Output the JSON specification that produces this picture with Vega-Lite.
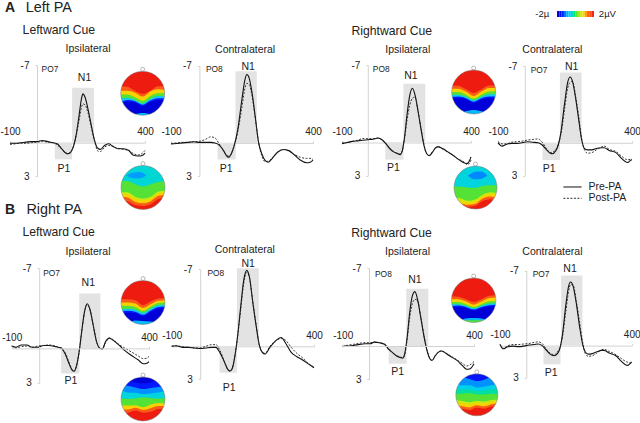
{"$schema":"https://vega.github.io/schema/vega-lite/v6.json","width":640,"height":423,"padding":0,"autosize":{"type":"none"},"background":"white",
"config":{"view":{"stroke":null},"axis":{"grid":false,"domainColor":"#d2d2d2","tickColor":"#d2d2d2","tickSize":2,"labelColor":"#222","labelFont":"Liberation Sans","labelFontSize":10,"labelOverlap":false,"labelBound":false,"labelFlush":false},"text":{"font":"Liberation Sans","color":"#222"}},
"datasets":{
"boxes":[{"p":"A1","t0":130,"t1":211,"v0":-4.95,"v1":0},{"p":"A1","t0":66,"t1":130,"v0":0,"v1":1.5},{"p":"A2","t0":127,"t1":202,"v0":-6.5,"v1":0},{"p":"A2","t0":64,"t1":128,"v0":0,"v1":1.5},{"p":"A3","t0":138,"t1":223,"v0":-5.3,"v1":0},{"p":"A3","t0":68,"t1":138,"v0":0,"v1":1.55},{"p":"A4","t0":131,"t1":212,"v0":-6.4,"v1":0},{"p":"A4","t0":66,"t1":131,"v0":0,"v1":1.58},{"p":"B1","t0":146,"t1":223,"v0":-4.8,"v1":0},{"p":"B1","t0":80,"t1":146,"v0":0,"v1":2.2},{"p":"B2","t0":129,"t1":206,"v0":-7.1,"v1":0},{"p":"B2","t0":68,"t1":129,"v0":0,"v1":2.4},{"p":"B3","t0":142,"t1":226,"v0":-5.15,"v1":0},{"p":"B3","t0":75,"t1":143,"v0":0,"v1":1.6},{"p":"B4","t0":132,"t1":213,"v0":-6.55,"v1":0},{"p":"B4","t0":65,"t1":130,"v0":0,"v1":1.75}],
"erp":[
{"p":"A1","t":-100,"a":0.05,"b":0.15},{"p":"A1","t":-80,"a":0.05,"b":0.1},{"p":"A1","t":-60,"a":0,"b":0.05},{"p":"A1","t":-40,"a":-0.05,"b":0.05},{"p":"A1","t":-20,"a":-0.1,"b":0},{"p":"A1","t":0,"a":-0.1,"b":-0.05},{"p":"A1","t":20,"a":-0.2,"b":-0.1},{"p":"A1","t":40,"a":-0.1,"b":-0.05},{"p":"A1","t":60,"a":0,"b":0},{"p":"A1","t":75,"a":0.1,"b":0.2},{"p":"A1","t":90,"a":0.5,"b":0.55},{"p":"A1","t":105,"a":0.9,"b":0.9},{"p":"A1","t":115,"a":1,"b":1},{"p":"A1","t":125,"a":0.85,"b":0.8},{"p":"A1","t":135,"a":0.35,"b":0.3},{"p":"A1","t":145,"a":-0.7,"b":-0.6},{"p":"A1","t":155,"a":-2.3,"b":-1.9},{"p":"A1","t":165,"a":-4,"b":-3.2},{"p":"A1","t":170,"a":-4.4,"b":-3.5},{"p":"A1","t":178,"a":-4.1,"b":-3.4},{"p":"A1","t":190,"a":-2.9,"b":-2.6},{"p":"A1","t":200,"a":-1.7,"b":-1.5},{"p":"A1","t":212,"a":-0.3,"b":-0.3},{"p":"A1","t":225,"a":0.5,"b":0.75},{"p":"A1","t":235,"a":0.6,"b":0.8},{"p":"A1","t":250,"a":0.25,"b":0.4},{"p":"A1","t":265,"a":0.1,"b":0.25},{"p":"A1","t":280,"a":0.3,"b":0.35},{"p":"A1","t":300,"a":0.55,"b":0.5},{"p":"A1","t":320,"a":0.55,"b":0.6},{"p":"A1","t":340,"a":0.7,"b":0.7},{"p":"A1","t":355,"a":1.1,"b":0.95},{"p":"A1","t":375,"a":1.2,"b":1.1},{"p":"A1","t":390,"a":1.15,"b":0.95},{"p":"A1","t":400,"a":0.95,"b":0.7},
{"p":"A2","t":-100,"a":0.1,"b":0.05},{"p":"A2","t":-80,"a":0.05,"b":0},{"p":"A2","t":-60,"a":0,"b":-0.05},{"p":"A2","t":-40,"a":-0.05,"b":-0.05},{"p":"A2","t":-20,"a":-0.1,"b":-0.1},{"p":"A2","t":0,"a":-0.05,"b":-0.15},{"p":"A2","t":20,"a":-0.05,"b":-0.3},{"p":"A2","t":40,"a":-0.05,"b":-0.55},{"p":"A2","t":55,"a":0,"b":-0.45},{"p":"A2","t":70,"a":0.2,"b":0.1},{"p":"A2","t":85,"a":0.7,"b":0.7},{"p":"A2","t":95,"a":1.15,"b":1.1},{"p":"A2","t":103,"a":1.3,"b":1.2},{"p":"A2","t":112,"a":1,"b":1},{"p":"A2","t":122,"a":0.3,"b":0.3},{"p":"A2","t":135,"a":-1.2,"b":-1},{"p":"A2","t":150,"a":-4,"b":-3.3},{"p":"A2","t":160,"a":-5.7,"b":-4.9},{"p":"A2","t":167,"a":-6.2,"b":-5.4},{"p":"A2","t":175,"a":-5.9,"b":-5.3},{"p":"A2","t":185,"a":-4.6,"b":-4.3},{"p":"A2","t":197,"a":-2.3,"b":-2.2},{"p":"A2","t":208,"a":-0.1,"b":-0.1},{"p":"A2","t":220,"a":1,"b":1.2},{"p":"A2","t":232,"a":1.6,"b":1.7},{"p":"A2","t":243,"a":1.75,"b":1.65},{"p":"A2","t":258,"a":1.35,"b":1.3},{"p":"A2","t":275,"a":0.85,"b":0.85},{"p":"A2","t":296,"a":0.6,"b":0.6},{"p":"A2","t":315,"a":0.7,"b":0.75},{"p":"A2","t":335,"a":1.1,"b":1.05},{"p":"A2","t":355,"a":1.55,"b":1.3},{"p":"A2","t":378,"a":1.8,"b":1.4},{"p":"A2","t":390,"a":1.75,"b":1.4},{"p":"A2","t":400,"a":1.55,"b":1.5},
{"p":"A3","t":-100,"a":0.1,"b":0.05},{"p":"A3","t":-80,"a":0,"b":0},{"p":"A3","t":-60,"a":-0.1,"b":-0.1},{"p":"A3","t":-40,"a":-0.15,"b":-0.2},{"p":"A3","t":-20,"a":-0.2,"b":-0.35},{"p":"A3","t":0,"a":-0.25,"b":-0.35},{"p":"A3","t":20,"a":-0.3,"b":-0.35},{"p":"A3","t":40,"a":-0.4,"b":-0.4},{"p":"A3","t":55,"a":-0.25,"b":-0.25},{"p":"A3","t":70,"a":0.1,"b":0.1},{"p":"A3","t":85,"a":0.55,"b":0.5},{"p":"A3","t":100,"a":0.85,"b":0.8},{"p":"A3","t":115,"a":1,"b":1},{"p":"A3","t":125,"a":1.1,"b":1.05},{"p":"A3","t":133,"a":0.8,"b":0.8},{"p":"A3","t":142,"a":-0.4,"b":-0.3},{"p":"A3","t":152,"a":-2.5,"b":-2},{"p":"A3","t":163,"a":-4.3,"b":-3.4},{"p":"A3","t":173,"a":-4.9,"b":-4},{"p":"A3","t":183,"a":-4.3,"b":-4.1},{"p":"A3","t":195,"a":-2.8,"b":-2.8},{"p":"A3","t":207,"a":-1.1,"b":-1.2},{"p":"A3","t":218,"a":0.3,"b":0.2},{"p":"A3","t":228,"a":1,"b":1},{"p":"A3","t":238,"a":1.2,"b":1.15},{"p":"A3","t":250,"a":0.9,"b":0.85},{"p":"A3","t":262,"a":0.5,"b":0.55},{"p":"A3","t":272,"a":0.4,"b":0.35},{"p":"A3","t":290,"a":0.55,"b":0.6},{"p":"A3","t":310,"a":0.85,"b":0.85},{"p":"A3","t":330,"a":1.15,"b":1.15},{"p":"A3","t":350,"a":1.5,"b":1.5},{"p":"A3","t":370,"a":1.8,"b":1.7},{"p":"A3","t":385,"a":1.9,"b":2},{"p":"A3","t":395,"a":1.6,"b":1.85},{"p":"A3","t":400,"a":1.3,"b":1.6},
{"p":"A4","t":-100,"a":0,"b":-0.1},{"p":"A4","t":-85,"a":0.3,"b":0.1},{"p":"A4","t":-70,"a":0.15,"b":0.1},{"p":"A4","t":-50,"a":0.05,"b":-0.05},{"p":"A4","t":-30,"a":0.05,"b":-0.1},{"p":"A4","t":-10,"a":0,"b":-0.15},{"p":"A4","t":10,"a":-0.1,"b":-0.25},{"p":"A4","t":30,"a":-0.05,"b":-0.3},{"p":"A4","t":50,"a":0,"b":-0.35},{"p":"A4","t":65,"a":0.2,"b":-0.05},{"p":"A4","t":80,"a":0.6,"b":0.5},{"p":"A4","t":95,"a":0.95,"b":0.9},{"p":"A4","t":103,"a":1,"b":0.85},{"p":"A4","t":115,"a":0.75,"b":0.65},{"p":"A4","t":125,"a":0.2,"b":0.1},{"p":"A4","t":135,"a":-1,"b":-0.8},{"p":"A4","t":148,"a":-3.5,"b":-3},{"p":"A4","t":160,"a":-5.5,"b":-5},{"p":"A4","t":169,"a":-6,"b":-5.5},{"p":"A4","t":178,"a":-5.6,"b":-5.6},{"p":"A4","t":190,"a":-4,"b":-4.2},{"p":"A4","t":200,"a":-2.3,"b":-2.6},{"p":"A4","t":212,"a":-0.3,"b":-0.4},{"p":"A4","t":222,"a":0.5,"b":0.6},{"p":"A4","t":234,"a":0.65,"b":0.95},{"p":"A4","t":250,"a":0.65,"b":0.9},{"p":"A4","t":270,"a":0.5,"b":0.6},{"p":"A4","t":285,"a":0.45,"b":0.4},{"p":"A4","t":296,"a":0.45,"b":0.3},{"p":"A4","t":315,"a":0.7,"b":0.6},{"p":"A4","t":340,"a":0.9,"b":0.8},{"p":"A4","t":360,"a":1.4,"b":1.2},{"p":"A4","t":384,"a":1.8,"b":1.55},{"p":"A4","t":395,"a":1.6,"b":1.5},{"p":"A4","t":400,"a":1.55,"b":1.5},
{"p":"B1","t":-100,"a":-0.2,"b":-0.2},{"p":"B1","t":-85,"a":-0.1,"b":-0.05},{"p":"B1","t":-65,"a":-0.3,"b":-0.15},{"p":"B1","t":-45,"a":-0.3,"b":-0.2},{"p":"B1","t":-25,"a":-0.1,"b":-0.1},{"p":"B1","t":-5,"a":-0.1,"b":-0.2},{"p":"B1","t":15,"a":-0.25,"b":-0.25},{"p":"B1","t":35,"a":-0.25,"b":-0.3},{"p":"B1","t":60,"a":-0.15,"b":-0.2},{"p":"B1","t":80,"a":-0.05,"b":0.05},{"p":"B1","t":95,"a":0.5,"b":0.4},{"p":"B1","t":110,"a":1.4,"b":1.3},{"p":"B1","t":120,"a":1.9,"b":1.85},{"p":"B1","t":127,"a":2,"b":2},{"p":"B1","t":135,"a":1.6,"b":1.65},{"p":"B1","t":145,"a":0.4,"b":0.4},{"p":"B1","t":155,"a":-1.5,"b":-1.4},{"p":"B1","t":165,"a":-3.2,"b":-3.1},{"p":"B1","t":175,"a":-3.9,"b":-3.8},{"p":"B1","t":185,"a":-3.4,"b":-3.4},{"p":"B1","t":197,"a":-2,"b":-2},{"p":"B1","t":210,"a":-0.5,"b":-0.5},{"p":"B1","t":222,"a":0,"b":0},{"p":"B1","t":230,"a":0.05,"b":0.05},{"p":"B1","t":242,"a":-0.6,"b":-0.5},{"p":"B1","t":255,"a":-0.9,"b":-0.9},{"p":"B1","t":270,"a":-0.7,"b":-0.75},{"p":"B1","t":290,"a":-0.3,"b":-0.35},{"p":"B1","t":310,"a":0.15,"b":-0.05},{"p":"B1","t":335,"a":0.6,"b":0.3},{"p":"B1","t":360,"a":1,"b":0.65},{"p":"B1","t":380,"a":1.35,"b":0.9},{"p":"B1","t":392,"a":1.3,"b":0.85},{"p":"B1","t":400,"a":1.15,"b":0.7},
{"p":"B2","t":-100,"a":0,"b":0},{"p":"B2","t":-85,"a":-0.05,"b":-0.05},{"p":"B2","t":-60,"a":0.1,"b":0.05},{"p":"B2","t":-40,"a":0.1,"b":0.1},{"p":"B2","t":-20,"a":0.15,"b":0.15},{"p":"B2","t":0,"a":0.2,"b":0.15},{"p":"B2","t":20,"a":0.15,"b":0},{"p":"B2","t":40,"a":0.1,"b":-0.15},{"p":"B2","t":55,"a":0.1,"b":-0.15},{"p":"B2","t":70,"a":0.6,"b":0.4},{"p":"B2","t":85,"a":1.4,"b":1.4},{"p":"B2","t":97,"a":2.1,"b":2.1},{"p":"B2","t":105,"a":2.25,"b":2.25},{"p":"B2","t":113,"a":2,"b":2},{"p":"B2","t":122,"a":0.9,"b":0.9},{"p":"B2","t":132,"a":-1,"b":-1},{"p":"B2","t":142,"a":-3.5,"b":-3.2},{"p":"B2","t":153,"a":-6,"b":-5.7},{"p":"B2","t":164,"a":-6.9,"b":-6.7},{"p":"B2","t":173,"a":-6.3,"b":-6.3},{"p":"B2","t":185,"a":-4,"b":-4},{"p":"B2","t":197,"a":-1.8,"b":-1.9},{"p":"B2","t":208,"a":-0.1,"b":-0.1},{"p":"B2","t":218,"a":0.55,"b":0.5},{"p":"B2","t":228,"a":0.7,"b":0.65},{"p":"B2","t":245,"a":0.1,"b":0},{"p":"B2","t":265,"a":-0.5,"b":-0.5},{"p":"B2","t":285,"a":-0.8,"b":-0.7},{"p":"B2","t":300,"a":-0.3,"b":-0.55},{"p":"B2","t":320,"a":0.55,"b":0.1},{"p":"B2","t":340,"a":0.95,"b":0.65},{"p":"B2","t":360,"a":1.25,"b":1.05},{"p":"B2","t":380,"a":1.6,"b":1.55},{"p":"B2","t":400,"a":1.95,"b":1.9},
{"p":"B3","t":-100,"a":0,"b":0.05},{"p":"B3","t":-85,"a":0,"b":-0.05},{"p":"B3","t":-60,"a":-0.05,"b":-0.15},{"p":"B3","t":-35,"a":-0.15,"b":-0.25},{"p":"B3","t":-15,"a":-0.2,"b":-0.3},{"p":"B3","t":5,"a":-0.2,"b":-0.3},{"p":"B3","t":20,"a":-0.35,"b":-0.35},{"p":"B3","t":40,"a":-0.3,"b":-0.3},{"p":"B3","t":60,"a":-0.15,"b":-0.1},{"p":"B3","t":75,"a":0.3,"b":0.2},{"p":"B3","t":90,"a":0.6,"b":0.6},{"p":"B3","t":105,"a":0.9,"b":0.85},{"p":"B3","t":120,"a":1.05,"b":1},{"p":"B3","t":128,"a":1.1,"b":1.05},{"p":"B3","t":135,"a":0.8,"b":0.9},{"p":"B3","t":145,"a":-0.7,"b":-0.5},{"p":"B3","t":155,"a":-3,"b":-2.5},{"p":"B3","t":165,"a":-4.5,"b":-3.8},{"p":"B3","t":175,"a":-4.9,"b":-4.2},{"p":"B3","t":185,"a":-4.2,"b":-4.1},{"p":"B3","t":197,"a":-2.6,"b":-2.7},{"p":"B3","t":210,"a":-0.8,"b":-0.9},{"p":"B3","t":222,"a":0.5,"b":0.4},{"p":"B3","t":232,"a":1.15,"b":1.1},{"p":"B3","t":240,"a":1.3,"b":1.3},{"p":"B3","t":252,"a":0.9,"b":0.85},{"p":"B3","t":265,"a":0.55,"b":0.5},{"p":"B3","t":277,"a":0.45,"b":0.45},{"p":"B3","t":295,"a":0.7,"b":0.65},{"p":"B3","t":315,"a":1,"b":0.95},{"p":"B3","t":335,"a":1.3,"b":1.25},{"p":"B3","t":355,"a":1.75,"b":1.55},{"p":"B3","t":372,"a":2.1,"b":1.8},{"p":"B3","t":385,"a":2.05,"b":1.7},{"p":"B3","t":400,"a":1.6,"b":1.4},
{"p":"B4","t":-100,"a":-0.1,"b":-0.1},{"p":"B4","t":-88,"a":0.3,"b":0.25},{"p":"B4","t":-70,"a":0.1,"b":0},{"p":"B4","t":-50,"a":0.05,"b":-0.1},{"p":"B4","t":-30,"a":0.1,"b":-0.1},{"p":"B4","t":-10,"a":0.05,"b":-0.15},{"p":"B4","t":10,"a":-0.05,"b":-0.2},{"p":"B4","t":30,"a":-0.1,"b":-0.3},{"p":"B4","t":45,"a":-0.15,"b":-0.35},{"p":"B4","t":60,"a":0,"b":-0.2},{"p":"B4","t":75,"a":0.4,"b":0.3},{"p":"B4","t":90,"a":0.8,"b":0.7},{"p":"B4","t":105,"a":0.95,"b":0.85},{"p":"B4","t":118,"a":0.75,"b":0.6},{"p":"B4","t":127,"a":0.3,"b":0.2},{"p":"B4","t":137,"a":-1,"b":-0.8},{"p":"B4","t":150,"a":-3.8,"b":-3.2},{"p":"B4","t":160,"a":-5.5,"b":-5},{"p":"B4","t":168,"a":-5.95,"b":-5.7},{"p":"B4","t":177,"a":-5.6,"b":-5.7},{"p":"B4","t":190,"a":-3.9,"b":-4.1},{"p":"B4","t":202,"a":-1.8,"b":-2.2},{"p":"B4","t":214,"a":-0.1,"b":-0.3},{"p":"B4","t":224,"a":0.6,"b":0.75},{"p":"B4","t":235,"a":0.8,"b":1},{"p":"B4","t":250,"a":0.75,"b":0.95},{"p":"B4","t":270,"a":0.55,"b":0.65},{"p":"B4","t":285,"a":0.45,"b":0.4},{"p":"B4","t":295,"a":0.45,"b":0.35},{"p":"B4","t":315,"a":0.7,"b":0.55},{"p":"B4","t":340,"a":0.95,"b":0.85},{"p":"B4","t":360,"a":1.45,"b":1.2},{"p":"B4","t":384,"a":1.85,"b":1.55},{"p":"B4","t":393,"a":1.7,"b":1.6},{"p":"B4","t":400,"a":1.55,"b":1.5}],
"labels":[
{"p":"A1","k":"t","t":44,"v":-12.1,"s":"Left PA"},{"p":"A1","k":"h","t":81,"v":-10.15,"s":"Leftward Cue"},{"p":"A1","k":"m","t":189,"v":-8.47,"s":"Ipsilateral"},{"p":"A1","k":"s","t":48,"v":-6.64,"s":"PO7"},{"p":"A1","k":"m","t":176,"v":-5.85,"s":"N1"},{"p":"A1","k":"m","t":100,"v":2.4,"s":"P1"},
{"p":"A2","k":"m","t":161,"v":-8.45,"s":"Contralateral"},{"p":"A2","k":"s","t":52.6,"v":-6.7,"s":"PO8"},{"p":"A2","k":"m","t":172,"v":-6.9,"s":"N1"},{"p":"A2","k":"m","t":94,"v":2.37,"s":"P1"},
{"p":"A3","k":"h","t":93,"v":-10.07,"s":"Rightward Cue"},{"p":"A3","k":"m","t":155,"v":-8.38,"s":"Ipsilateral"},{"p":"A3","k":"s","t":52,"v":-6.64,"s":"PO8"},{"p":"A3","k":"m","t":167,"v":-5.98,"s":"N1"},{"p":"A3","k":"m","t":99,"v":2.3,"s":"P1"},
{"p":"A4","k":"m","t":103,"v":-8.46,"s":"Contralateral"},{"p":"A4","k":"s","t":53,"v":-6.6,"s":"PO7"},{"p":"A4","k":"m","t":175,"v":-6.9,"s":"N1"},{"p":"A4","k":"m","t":91,"v":2.39,"s":"P1"},{"p":"A4","k":"m","t":299,"v":4,"s":"Pre-PA"},{"p":"A4","k":"m","t":308,"v":5.06,"s":"Post-PA"},
{"p":"B1","k":"t","t":55,"v":-12.1,"s":"Right PA"},{"p":"B1","k":"h","t":71,"v":-10.15,"s":"Leftward Cue"},{"p":"B1","k":"m","t":178,"v":-8.45,"s":"Ipsilateral"},{"p":"B1","k":"s","t":45,"v":-6.56,"s":"PO7"},{"p":"B1","k":"m","t":179,"v":-5.69,"s":"N1"},{"p":"B1","k":"m","t":116,"v":2.85,"s":"P1"},
{"p":"B2","k":"m","t":157,"v":-8.8,"s":"Contralateral"},{"p":"B2","k":"s","t":55,"v":-6.64,"s":"PO8"},{"p":"B2","k":"m","t":169,"v":-7.5,"s":"N1"},{"p":"B2","k":"m","t":102,"v":3.76,"s":"P1"},
{"p":"B3","k":"h","t":86,"v":-10.15,"s":"Rightward Cue"},{"p":"B3","k":"m","t":147,"v":-8.44,"s":"Ipsilateral"},{"p":"B3","k":"s","t":55,"v":-6.49,"s":"PO8"},{"p":"B3","k":"m","t":175,"v":-5.92,"s":"N1"},{"p":"B3","k":"m","t":109,"v":2.34,"s":"P1"},
{"p":"B4","k":"m","t":99,"v":-8.72,"s":"Contralateral"},{"p":"B4","k":"s","t":56,"v":-6.69,"s":"PO7"},{"p":"B4","k":"m","t":166,"v":-7.19,"s":"N1"},{"p":"B4","k":"m","t":94,"v":2.56,"s":"P1"}],
"letters":[{"p":"A1","t":-100,"v":-12.1,"s":"A"},{"p":"B1","t":-106,"v":-12.1,"s":"B"}],
"legendlines":[{"s":"Pre-PA","t0":144,"t1":212,"v":4.03},{"s":"Post-PA","t0":144,"t1":212,"v":5.06}],
"heads":[{"m":"A1t","l":2,"x":0,"y":0,"n":1.09},{"m":"A3t","l":2,"x":0,"y":0,"n":1.09},{"m":"B1t","l":2,"x":0,"y":0,"n":1.09},{"m":"B3t","l":2,"x":0,"y":0,"n":1.09},{"m":"A1b","l":-0.45,"x":0,"y":0,"n":1.09},{"m":"A3b","l":-0.5,"x":0,"y":0,"n":1.09},{"m":"B1b","l":-2,"x":0,"y":0,"n":1.09},{"m":"B3b","l":-1.5,"x":0,"y":0,"n":1.09}],
"bar":[{"u0":-2,"u1":-1.75,"l":-1.9},{"u0":-1.75,"u1":-1.5,"l":-1.62},{"u0":-1.5,"u1":-1.25,"l":-1.38},{"u0":-1.25,"u1":-1,"l":-1.12},{"u0":-1,"u1":-0.75,"l":-0.88},{"u0":-0.75,"u1":-0.5,"l":-0.62},{"u0":-0.5,"u1":-0.25,"l":-0.38},{"u0":-0.25,"u1":0,"l":-0.12},{"u0":0,"u1":0.25,"l":0.12},{"u0":0.25,"u1":0.5,"l":0.38},{"u0":0.5,"u1":0.75,"l":0.62},{"u0":0.75,"u1":1,"l":0.88},{"u0":1,"u1":1.25,"l":1.12},{"u0":1.25,"u1":1.5,"l":1.38},{"u0":1.5,"u1":1.75,"l":1.62},{"u0":1.75,"u1":2,"l":1.9}],
"barlabels":[{"u":-3.6,"s":"-2µ"},{"u":3.45,"s":"2µV"}],
"blobs":[{"m":"A1b","l":-0.95,"x":-0.75,"y":0.55,"b":0.55},{"m":"A1b","l":-0.95,"x":-0.45,"y":0.68,"b":0.42},{"m":"A1b","l":-0.95,"x":-0.15,"y":0.7,"b":0.42},{"m":"A1b","l":-0.95,"x":0.15,"y":0.55,"b":0.55},
{"m":"A3b","l":-1.05,"x":-0.35,"y":0.55,"b":0.55},{"m":"A3b","l":-1.05,"x":-0.05,"y":0.72,"b":0.38},{"m":"A3b","l":-1.05,"x":0.25,"y":0.74,"b":0.4},{"m":"A3b","l":-1.05,"x":0.55,"y":0.55,"b":0.55}],
"topo":[
{"m":"A1t","k":1,"l":1.4,"x":-1,"y":0.32},{"m":"A1t","k":1,"l":1.4,"x":-0.7,"y":0.3},{"m":"A1t","k":1,"l":1.4,"x":-0.35,"y":0.12},{"m":"A1t","k":1,"l":1.4,"x":0,"y":-0.02},{"m":"A1t","k":1,"l":1.4,"x":0.35,"y":0.12},{"m":"A1t","k":1,"l":1.4,"x":0.7,"y":0.32},{"m":"A1t","k":1,"l":1.4,"x":1,"y":0.32},
{"m":"A1t","k":2,"l":0.9,"x":-1,"y":0.12},{"m":"A1t","k":2,"l":0.9,"x":-0.7,"y":0.12},{"m":"A1t","k":2,"l":0.9,"x":-0.35,"y":0.03},{"m":"A1t","k":2,"l":0.9,"x":0,"y":-0.15},{"m":"A1t","k":2,"l":0.9,"x":0.35,"y":0.08},{"m":"A1t","k":2,"l":0.9,"x":0.7,"y":0.18},{"m":"A1t","k":2,"l":0.9,"x":1,"y":0.15},
{"m":"A1t","k":3,"l":0.1,"x":-1,"y":-0.05},{"m":"A1t","k":3,"l":0.1,"x":-0.7,"y":-0.05},{"m":"A1t","k":3,"l":0.1,"x":-0.35,"y":-0.18},{"m":"A1t","k":3,"l":0.1,"x":0,"y":-0.34},{"m":"A1t","k":3,"l":0.1,"x":0.35,"y":-0.12},{"m":"A1t","k":3,"l":0.1,"x":0.7,"y":0},{"m":"A1t","k":3,"l":0.1,"x":1,"y":0},
{"m":"A1t","k":4,"l":-0.7,"x":-1,"y":-0.23},{"m":"A1t","k":4,"l":-0.7,"x":-0.7,"y":-0.2},{"m":"A1t","k":4,"l":-0.7,"x":-0.35,"y":-0.3},{"m":"A1t","k":4,"l":-0.7,"x":0,"y":-0.46},{"m":"A1t","k":4,"l":-0.7,"x":0.35,"y":-0.25},{"m":"A1t","k":4,"l":-0.7,"x":0.7,"y":-0.12},{"m":"A1t","k":4,"l":-0.7,"x":1,"y":-0.12},
{"m":"A1t","k":5,"l":-1.4,"x":-1,"y":-0.4},{"m":"A1t","k":5,"l":-1.4,"x":-0.7,"y":-0.3},{"m":"A1t","k":5,"l":-1.4,"x":-0.35,"y":-0.36},{"m":"A1t","k":5,"l":-1.4,"x":0,"y":-0.52},{"m":"A1t","k":5,"l":-1.4,"x":0.35,"y":-0.33},{"m":"A1t","k":5,"l":-1.4,"x":0.7,"y":-0.22},{"m":"A1t","k":5,"l":-1.4,"x":1,"y":-0.22},
{"m":"A1t","k":6,"l":-2,"x":-1,"y":-0.5},{"m":"A1t","k":6,"l":-2,"x":-0.7,"y":-0.38},{"m":"A1t","k":6,"l":-2,"x":-0.35,"y":-0.42},{"m":"A1t","k":6,"l":-2,"x":0,"y":-0.58},{"m":"A1t","k":6,"l":-2,"x":0.35,"y":-0.4},{"m":"A1t","k":6,"l":-2,"x":0.7,"y":-0.3},{"m":"A1t","k":6,"l":-2,"x":1,"y":-0.3},
{"m":"A1t","k":7,"l":-0.8,"x":-1,"y":-1},{"m":"A1t","k":7,"l":-0.8,"x":-0.7,"y":-1},{"m":"A1t","k":7,"l":-0.8,"x":-0.35,"y":-0.95},{"m":"A1t","k":7,"l":-0.8,"x":0,"y":-0.9},{"m":"A1t","k":7,"l":-0.8,"x":0.35,"y":-0.95},{"m":"A1t","k":7,"l":-0.8,"x":0.7,"y":-1},{"m":"A1t","k":7,"l":-0.8,"x":1,"y":-1},
{"m":"B1t","k":1,"l":1.4,"x":-1,"y":0.15},{"m":"B1t","k":1,"l":1.4,"x":-0.7,"y":0.15},{"m":"B1t","k":1,"l":1.4,"x":-0.35,"y":0.1},{"m":"B1t","k":1,"l":1.4,"x":0,"y":-0.12},{"m":"B1t","k":1,"l":1.4,"x":0.35,"y":0.05},{"m":"B1t","k":1,"l":1.4,"x":0.7,"y":0.18},{"m":"B1t","k":1,"l":1.4,"x":1,"y":0.2},
{"m":"B1t","k":2,"l":0.9,"x":-1,"y":0},{"m":"B1t","k":2,"l":0.9,"x":-0.7,"y":0},{"m":"B1t","k":2,"l":0.9,"x":-0.35,"y":-0.05},{"m":"B1t","k":2,"l":0.9,"x":0,"y":-0.25},{"m":"B1t","k":2,"l":0.9,"x":0.35,"y":-0.08},{"m":"B1t","k":2,"l":0.9,"x":0.7,"y":0.08},{"m":"B1t","k":2,"l":0.9,"x":1,"y":0.1},
{"m":"B1t","k":3,"l":0.1,"x":-1,"y":-0.15},{"m":"B1t","k":3,"l":0.1,"x":-0.7,"y":-0.15},{"m":"B1t","k":3,"l":0.1,"x":-0.35,"y":-0.2},{"m":"B1t","k":3,"l":0.1,"x":0,"y":-0.38},{"m":"B1t","k":3,"l":0.1,"x":0.35,"y":-0.18},{"m":"B1t","k":3,"l":0.1,"x":0.7,"y":-0.02},{"m":"B1t","k":3,"l":0.1,"x":1,"y":0},
{"m":"B1t","k":4,"l":-0.7,"x":-1,"y":-0.3},{"m":"B1t","k":4,"l":-0.7,"x":-0.7,"y":-0.28},{"m":"B1t","k":4,"l":-0.7,"x":-0.35,"y":-0.33},{"m":"B1t","k":4,"l":-0.7,"x":0,"y":-0.47},{"m":"B1t","k":4,"l":-0.7,"x":0.35,"y":-0.28},{"m":"B1t","k":4,"l":-0.7,"x":0.7,"y":-0.12},{"m":"B1t","k":4,"l":-0.7,"x":1,"y":-0.1},
{"m":"B1t","k":5,"l":-1.4,"x":-1,"y":-0.42},{"m":"B1t","k":5,"l":-1.4,"x":-0.7,"y":-0.38},{"m":"B1t","k":5,"l":-1.4,"x":-0.35,"y":-0.42},{"m":"B1t","k":5,"l":-1.4,"x":0,"y":-0.56},{"m":"B1t","k":5,"l":-1.4,"x":0.35,"y":-0.36},{"m":"B1t","k":5,"l":-1.4,"x":0.7,"y":-0.2},{"m":"B1t","k":5,"l":-1.4,"x":1,"y":-0.18},
{"m":"B1t","k":6,"l":-2,"x":-1,"y":-0.5},{"m":"B1t","k":6,"l":-2,"x":-0.7,"y":-0.45},{"m":"B1t","k":6,"l":-2,"x":-0.35,"y":-0.48},{"m":"B1t","k":6,"l":-2,"x":0,"y":-0.62},{"m":"B1t","k":6,"l":-2,"x":0.35,"y":-0.42},{"m":"B1t","k":6,"l":-2,"x":0.7,"y":-0.28},{"m":"B1t","k":6,"l":-2,"x":1,"y":-0.26},
{"m":"B1t","k":7,"l":-0.8,"x":-1,"y":-1},{"m":"B1t","k":7,"l":-0.8,"x":-0.7,"y":-0.95},{"m":"B1t","k":7,"l":-0.8,"x":-0.35,"y":-0.82},{"m":"B1t","k":7,"l":-0.8,"x":0,"y":-0.84},{"m":"B1t","k":7,"l":-0.8,"x":0.35,"y":-0.86},{"m":"B1t","k":7,"l":-0.8,"x":0.7,"y":-0.95},{"m":"B1t","k":7,"l":-0.8,"x":1,"y":-1},
{"m":"A3t","k":1,"l":1.4,"x":-1,"y":0.3},{"m":"A3t","k":1,"l":1.4,"x":-0.7,"y":0.28},{"m":"A3t","k":1,"l":1.4,"x":-0.35,"y":0.12},{"m":"A3t","k":1,"l":1.4,"x":0,"y":-0.05},{"m":"A3t","k":1,"l":1.4,"x":0.35,"y":0.12},{"m":"A3t","k":1,"l":1.4,"x":0.7,"y":0.3},{"m":"A3t","k":1,"l":1.4,"x":1,"y":0.3},
{"m":"A3t","k":2,"l":0.9,"x":-1,"y":0.15},{"m":"A3t","k":2,"l":0.9,"x":-0.7,"y":0.15},{"m":"A3t","k":2,"l":0.9,"x":-0.35,"y":0.02},{"m":"A3t","k":2,"l":0.9,"x":0,"y":-0.18},{"m":"A3t","k":2,"l":0.9,"x":0.35,"y":0.02},{"m":"A3t","k":2,"l":0.9,"x":0.7,"y":0.18},{"m":"A3t","k":2,"l":0.9,"x":1,"y":0.18},
{"m":"A3t","k":3,"l":0.1,"x":-1,"y":0},{"m":"A3t","k":3,"l":0.1,"x":-0.7,"y":0},{"m":"A3t","k":3,"l":0.1,"x":-0.35,"y":-0.12},{"m":"A3t","k":3,"l":0.1,"x":0,"y":-0.3},{"m":"A3t","k":3,"l":0.1,"x":0.35,"y":-0.12},{"m":"A3t","k":3,"l":0.1,"x":0.7,"y":0.02},{"m":"A3t","k":3,"l":0.1,"x":1,"y":0.03},
{"m":"A3t","k":4,"l":-0.7,"x":-1,"y":-0.12},{"m":"A3t","k":4,"l":-0.7,"x":-0.7,"y":-0.12},{"m":"A3t","k":4,"l":-0.7,"x":-0.35,"y":-0.22},{"m":"A3t","k":4,"l":-0.7,"x":0,"y":-0.38},{"m":"A3t","k":4,"l":-0.7,"x":0.35,"y":-0.22},{"m":"A3t","k":4,"l":-0.7,"x":0.7,"y":-0.1},{"m":"A3t","k":4,"l":-0.7,"x":1,"y":-0.1},
{"m":"A3t","k":5,"l":-1.4,"x":-1,"y":-0.22},{"m":"A3t","k":5,"l":-1.4,"x":-0.7,"y":-0.2},{"m":"A3t","k":5,"l":-1.4,"x":-0.35,"y":-0.28},{"m":"A3t","k":5,"l":-1.4,"x":0,"y":-0.44},{"m":"A3t","k":5,"l":-1.4,"x":0.35,"y":-0.28},{"m":"A3t","k":5,"l":-1.4,"x":0.7,"y":-0.2},{"m":"A3t","k":5,"l":-1.4,"x":1,"y":-0.2},
{"m":"A3t","k":6,"l":-2,"x":-1,"y":-0.3},{"m":"A3t","k":6,"l":-2,"x":-0.7,"y":-0.27},{"m":"A3t","k":6,"l":-2,"x":-0.35,"y":-0.34},{"m":"A3t","k":6,"l":-2,"x":0,"y":-0.5},{"m":"A3t","k":6,"l":-2,"x":0.35,"y":-0.34},{"m":"A3t","k":6,"l":-2,"x":0.7,"y":-0.28},{"m":"A3t","k":6,"l":-2,"x":1,"y":-0.28},
{"m":"A3t","k":7,"l":-0.8,"x":-1,"y":-1},{"m":"A3t","k":7,"l":-0.8,"x":-0.7,"y":-1},{"m":"A3t","k":7,"l":-0.8,"x":-0.35,"y":-0.88},{"m":"A3t","k":7,"l":-0.8,"x":0,"y":-0.82},{"m":"A3t","k":7,"l":-0.8,"x":0.35,"y":-0.88},{"m":"A3t","k":7,"l":-0.8,"x":0.7,"y":-1},{"m":"A3t","k":7,"l":-0.8,"x":1,"y":-1},
{"m":"B3t","k":1,"l":1.4,"x":-1,"y":0.18},{"m":"B3t","k":1,"l":1.4,"x":-0.7,"y":0.16},{"m":"B3t","k":1,"l":1.4,"x":-0.35,"y":0.05},{"m":"B3t","k":1,"l":1.4,"x":0,"y":-0.07},{"m":"B3t","k":1,"l":1.4,"x":0.35,"y":0.05},{"m":"B3t","k":1,"l":1.4,"x":0.7,"y":0.2},{"m":"B3t","k":1,"l":1.4,"x":1,"y":0.22},
{"m":"B3t","k":2,"l":0.9,"x":-1,"y":0.05},{"m":"B3t","k":2,"l":0.9,"x":-0.7,"y":0.05},{"m":"B3t","k":2,"l":0.9,"x":-0.35,"y":-0.05},{"m":"B3t","k":2,"l":0.9,"x":0,"y":-0.2},{"m":"B3t","k":2,"l":0.9,"x":0.35,"y":-0.05},{"m":"B3t","k":2,"l":0.9,"x":0.7,"y":0.1},{"m":"B3t","k":2,"l":0.9,"x":1,"y":0.12},
{"m":"B3t","k":3,"l":0.1,"x":-1,"y":-0.08},{"m":"B3t","k":3,"l":0.1,"x":-0.7,"y":-0.08},{"m":"B3t","k":3,"l":0.1,"x":-0.35,"y":-0.18},{"m":"B3t","k":3,"l":0.1,"x":0,"y":-0.3},{"m":"B3t","k":3,"l":0.1,"x":0.35,"y":-0.18},{"m":"B3t","k":3,"l":0.1,"x":0.7,"y":-0.05},{"m":"B3t","k":3,"l":0.1,"x":1,"y":-0.03},
{"m":"B3t","k":4,"l":-0.7,"x":-1,"y":-0.18},{"m":"B3t","k":4,"l":-0.7,"x":-0.7,"y":-0.18},{"m":"B3t","k":4,"l":-0.7,"x":-0.35,"y":-0.25},{"m":"B3t","k":4,"l":-0.7,"x":0,"y":-0.36},{"m":"B3t","k":4,"l":-0.7,"x":0.35,"y":-0.25},{"m":"B3t","k":4,"l":-0.7,"x":0.7,"y":-0.15},{"m":"B3t","k":4,"l":-0.7,"x":1,"y":-0.13},
{"m":"B3t","k":5,"l":-1.4,"x":-1,"y":-0.26},{"m":"B3t","k":5,"l":-1.4,"x":-0.7,"y":-0.24},{"m":"B3t","k":5,"l":-1.4,"x":-0.35,"y":-0.3},{"m":"B3t","k":5,"l":-1.4,"x":0,"y":-0.41},{"m":"B3t","k":5,"l":-1.4,"x":0.35,"y":-0.3},{"m":"B3t","k":5,"l":-1.4,"x":0.7,"y":-0.22},{"m":"B3t","k":5,"l":-1.4,"x":1,"y":-0.2},
{"m":"B3t","k":6,"l":-2,"x":-1,"y":-0.34},{"m":"B3t","k":6,"l":-2,"x":-0.7,"y":-0.3},{"m":"B3t","k":6,"l":-2,"x":-0.35,"y":-0.36},{"m":"B3t","k":6,"l":-2,"x":0,"y":-0.46},{"m":"B3t","k":6,"l":-2,"x":0.35,"y":-0.36},{"m":"B3t","k":6,"l":-2,"x":0.7,"y":-0.28},{"m":"B3t","k":6,"l":-2,"x":1,"y":-0.26},
{"m":"B3t","k":7,"l":-0.8,"x":-1,"y":-1},{"m":"B3t","k":7,"l":-0.8,"x":-0.7,"y":-0.95},{"m":"B3t","k":7,"l":-0.8,"x":-0.35,"y":-0.82},{"m":"B3t","k":7,"l":-0.8,"x":0,"y":-0.8},{"m":"B3t","k":7,"l":-0.8,"x":0.35,"y":-0.82},{"m":"B3t","k":7,"l":-0.8,"x":0.7,"y":-0.95},{"m":"B3t","k":7,"l":-0.8,"x":1,"y":-1},
{"m":"B3t","k":8,"l":0.1,"x":-1,"y":-1},{"m":"B3t","k":8,"l":0.1,"x":-0.7,"y":-1},{"m":"B3t","k":8,"l":0.1,"x":-0.35,"y":-0.9},{"m":"B3t","k":8,"l":0.1,"x":0,"y":-0.9},{"m":"B3t","k":8,"l":0.1,"x":0.35,"y":-0.9},{"m":"B3t","k":8,"l":0.1,"x":0.7,"y":-1},{"m":"B3t","k":8,"l":0.1,"x":1,"y":-1},
{"m":"A1b","k":1,"l":0.1,"x":-1,"y":0.3},{"m":"A1b","k":1,"l":0.1,"x":-0.7,"y":0.3},{"m":"A1b","k":1,"l":0.1,"x":-0.35,"y":0.15},{"m":"A1b","k":1,"l":0.1,"x":0,"y":0.05},{"m":"A1b","k":1,"l":0.1,"x":0.35,"y":0.15},{"m":"A1b","k":1,"l":0.1,"x":0.7,"y":0.25},{"m":"A1b","k":1,"l":0.1,"x":1,"y":0.3},
{"m":"A1b","k":2,"l":0.6,"x":-1,"y":-0.2},{"m":"A1b","k":2,"l":0.6,"x":-0.7,"y":-0.22},{"m":"A1b","k":2,"l":0.6,"x":-0.35,"y":-0.42},{"m":"A1b","k":2,"l":0.6,"x":0,"y":-0.5},{"m":"A1b","k":2,"l":0.6,"x":0.35,"y":-0.42},{"m":"A1b","k":2,"l":0.6,"x":0.7,"y":-0.18},{"m":"A1b","k":2,"l":0.6,"x":1,"y":-0.15},
{"m":"A1b","k":3,"l":0.9,"x":-1,"y":-0.28},{"m":"A1b","k":3,"l":0.9,"x":-0.7,"y":-0.3},{"m":"A1b","k":3,"l":0.9,"x":-0.35,"y":-0.52},{"m":"A1b","k":3,"l":0.9,"x":0,"y":-0.58},{"m":"A1b","k":3,"l":0.9,"x":0.35,"y":-0.5},{"m":"A1b","k":3,"l":0.9,"x":0.7,"y":-0.26},{"m":"A1b","k":3,"l":0.9,"x":1,"y":-0.22},
{"m":"A1b","k":4,"l":1.4,"x":-1,"y":-0.42},{"m":"A1b","k":4,"l":1.4,"x":-0.7,"y":-0.45},{"m":"A1b","k":4,"l":1.4,"x":-0.35,"y":-0.66},{"m":"A1b","k":4,"l":1.4,"x":0,"y":-0.72},{"m":"A1b","k":4,"l":1.4,"x":0.35,"y":-0.62},{"m":"A1b","k":4,"l":1.4,"x":0.7,"y":-0.38},{"m":"A1b","k":4,"l":1.4,"x":1,"y":-0.34},
{"m":"A1b","k":5,"l":2,"x":-1,"y":-0.6},{"m":"A1b","k":5,"l":2,"x":-0.7,"y":-0.62},{"m":"A1b","k":5,"l":2,"x":-0.35,"y":-0.8},{"m":"A1b","k":5,"l":2,"x":0,"y":-0.84},{"m":"A1b","k":5,"l":2,"x":0.35,"y":-0.76},{"m":"A1b","k":5,"l":2,"x":0.7,"y":-0.52},{"m":"A1b","k":5,"l":2,"x":1,"y":-0.48},
{"m":"A3b","k":1,"l":0.1,"x":-1,"y":0.05},{"m":"A3b","k":1,"l":0.1,"x":-0.7,"y":0.05},{"m":"A3b","k":1,"l":0.1,"x":-0.35,"y":0},{"m":"A3b","k":1,"l":0.1,"x":0,"y":-0.02},{"m":"A3b","k":1,"l":0.1,"x":0.35,"y":0.08},{"m":"A3b","k":1,"l":0.1,"x":0.7,"y":0.1},{"m":"A3b","k":1,"l":0.1,"x":1,"y":0.1},
{"m":"A3b","k":2,"l":0.6,"x":-1,"y":-0.45},{"m":"A3b","k":2,"l":0.6,"x":-0.7,"y":-0.5},{"m":"A3b","k":2,"l":0.6,"x":-0.35,"y":-0.62},{"m":"A3b","k":2,"l":0.6,"x":0,"y":-0.55},{"m":"A3b","k":2,"l":0.6,"x":0.35,"y":-0.32},{"m":"A3b","k":2,"l":0.6,"x":0.7,"y":-0.22},{"m":"A3b","k":2,"l":0.6,"x":1,"y":-0.25},
{"m":"A3b","k":3,"l":0.9,"x":-1,"y":-0.6},{"m":"A3b","k":3,"l":0.9,"x":-0.7,"y":-0.62},{"m":"A3b","k":3,"l":0.9,"x":-0.35,"y":-0.7},{"m":"A3b","k":3,"l":0.9,"x":0,"y":-0.65},{"m":"A3b","k":3,"l":0.9,"x":0.35,"y":-0.4},{"m":"A3b","k":3,"l":0.9,"x":0.7,"y":-0.3},{"m":"A3b","k":3,"l":0.9,"x":1,"y":-0.35},
{"m":"A3b","k":4,"l":1.4,"x":-1,"y":-0.8},{"m":"A3b","k":4,"l":1.4,"x":-0.7,"y":-0.75},{"m":"A3b","k":4,"l":1.4,"x":-0.35,"y":-0.8},{"m":"A3b","k":4,"l":1.4,"x":0,"y":-0.75},{"m":"A3b","k":4,"l":1.4,"x":0.35,"y":-0.5},{"m":"A3b","k":4,"l":1.4,"x":0.7,"y":-0.42},{"m":"A3b","k":4,"l":1.4,"x":1,"y":-0.5},
{"m":"A3b","k":5,"l":2,"x":-1,"y":-1},{"m":"A3b","k":5,"l":2,"x":-0.7,"y":-0.9},{"m":"A3b","k":5,"l":2,"x":-0.35,"y":-0.9},{"m":"A3b","k":5,"l":2,"x":0,"y":-0.85},{"m":"A3b","k":5,"l":2,"x":0.35,"y":-0.62},{"m":"A3b","k":5,"l":2,"x":0.7,"y":-0.55},{"m":"A3b","k":5,"l":2,"x":1,"y":-0.65},
{"m":"B1b","k":1,"l":-1.4,"x":-1,"y":0.95},{"m":"B1b","k":1,"l":-1.4,"x":-0.7,"y":0.9},{"m":"B1b","k":1,"l":-1.4,"x":-0.35,"y":0.75},{"m":"B1b","k":1,"l":-1.4,"x":0,"y":0.7},{"m":"B1b","k":1,"l":-1.4,"x":0.35,"y":0.75},{"m":"B1b","k":1,"l":-1.4,"x":0.7,"y":0.9},{"m":"B1b","k":1,"l":-1.4,"x":1,"y":0.95},
{"m":"B1b","k":2,"l":-1,"x":-1,"y":0.65},{"m":"B1b","k":2,"l":-1,"x":-0.7,"y":0.6},{"m":"B1b","k":2,"l":-1,"x":-0.35,"y":0.52},{"m":"B1b","k":2,"l":-1,"x":0,"y":0.45},{"m":"B1b","k":2,"l":-1,"x":0.35,"y":0.5},{"m":"B1b","k":2,"l":-1,"x":0.7,"y":0.55},{"m":"B1b","k":2,"l":-1,"x":1,"y":0.6},
{"m":"B1b","k":3,"l":-0.5,"x":-1,"y":0.4},{"m":"B1b","k":3,"l":-0.5,"x":-0.7,"y":0.3},{"m":"B1b","k":3,"l":-0.5,"x":-0.35,"y":0.28},{"m":"B1b","k":3,"l":-0.5,"x":0,"y":0.22},{"m":"B1b","k":3,"l":-0.5,"x":0.35,"y":0.25},{"m":"B1b","k":3,"l":-0.5,"x":0.7,"y":0.3},{"m":"B1b","k":3,"l":-0.5,"x":1,"y":0.35},
{"m":"B1b","k":4,"l":0.1,"x":-1,"y":0.05},{"m":"B1b","k":4,"l":0.1,"x":-0.7,"y":0},{"m":"B1b","k":4,"l":0.1,"x":-0.35,"y":0.02},{"m":"B1b","k":4,"l":0.1,"x":0,"y":0.08},{"m":"B1b","k":4,"l":0.1,"x":0.35,"y":0.05},{"m":"B1b","k":4,"l":0.1,"x":0.7,"y":0.02},{"m":"B1b","k":4,"l":0.1,"x":1,"y":0.05},
{"m":"B1b","k":5,"l":0.9,"x":-1,"y":-0.28},{"m":"B1b","k":5,"l":0.9,"x":-0.7,"y":-0.3},{"m":"B1b","k":5,"l":0.9,"x":-0.35,"y":-0.28},{"m":"B1b","k":5,"l":0.9,"x":0,"y":-0.38},{"m":"B1b","k":5,"l":0.9,"x":0.35,"y":-0.25},{"m":"B1b","k":5,"l":0.9,"x":0.7,"y":-0.18},{"m":"B1b","k":5,"l":0.9,"x":1,"y":-0.2},
{"m":"B1b","k":6,"l":1.4,"x":-1,"y":-0.45},{"m":"B1b","k":6,"l":1.4,"x":-0.7,"y":-0.48},{"m":"B1b","k":6,"l":1.4,"x":-0.35,"y":-0.4},{"m":"B1b","k":6,"l":1.4,"x":0,"y":-0.5},{"m":"B1b","k":6,"l":1.4,"x":0.35,"y":-0.42},{"m":"B1b","k":6,"l":1.4,"x":0.7,"y":-0.32},{"m":"B1b","k":6,"l":1.4,"x":1,"y":-0.32},
{"m":"B1b","k":7,"l":2,"x":-1,"y":-0.6},{"m":"B1b","k":7,"l":2,"x":-0.7,"y":-0.62},{"m":"B1b","k":7,"l":2,"x":-0.35,"y":-0.52},{"m":"B1b","k":7,"l":2,"x":0,"y":-0.62},{"m":"B1b","k":7,"l":2,"x":0.35,"y":-0.58},{"m":"B1b","k":7,"l":2,"x":0.7,"y":-0.45},{"m":"B1b","k":7,"l":2,"x":1,"y":-0.45},
{"m":"B3b","k":1,"l":-1,"x":-1,"y":0.9},{"m":"B3b","k":1,"l":-1,"x":-0.7,"y":0.85},{"m":"B3b","k":1,"l":-1,"x":-0.35,"y":0.75},{"m":"B3b","k":1,"l":-1,"x":0,"y":0.65},{"m":"B3b","k":1,"l":-1,"x":0.35,"y":0.72},{"m":"B3b","k":1,"l":-1,"x":0.7,"y":0.85},{"m":"B3b","k":1,"l":-1,"x":1,"y":0.9},
{"m":"B3b","k":2,"l":-0.6,"x":-1,"y":0.55},{"m":"B3b","k":2,"l":-0.6,"x":-0.7,"y":0.45},{"m":"B3b","k":2,"l":-0.6,"x":-0.35,"y":0.45},{"m":"B3b","k":2,"l":-0.6,"x":0,"y":0.35},{"m":"B3b","k":2,"l":-0.6,"x":0.35,"y":0.38},{"m":"B3b","k":2,"l":-0.6,"x":0.7,"y":0.45},{"m":"B3b","k":2,"l":-0.6,"x":1,"y":0.5},
{"m":"B3b","k":3,"l":-0.25,"x":-1,"y":0.3},{"m":"B3b","k":3,"l":-0.25,"x":-0.7,"y":0.25},{"m":"B3b","k":3,"l":-0.25,"x":-0.35,"y":0.25},{"m":"B3b","k":3,"l":-0.25,"x":0,"y":0.18},{"m":"B3b","k":3,"l":-0.25,"x":0.35,"y":0.2},{"m":"B3b","k":3,"l":-0.25,"x":0.7,"y":0.25},{"m":"B3b","k":3,"l":-0.25,"x":1,"y":0.28},
{"m":"B3b","k":4,"l":0.1,"x":-1,"y":0.05},{"m":"B3b","k":4,"l":0.1,"x":-0.7,"y":0.05},{"m":"B3b","k":4,"l":0.1,"x":-0.35,"y":0.08},{"m":"B3b","k":4,"l":0.1,"x":0,"y":0.02},{"m":"B3b","k":4,"l":0.1,"x":0.35,"y":0.02},{"m":"B3b","k":4,"l":0.1,"x":0.7,"y":0.05},{"m":"B3b","k":4,"l":0.1,"x":1,"y":0.03},
{"m":"B3b","k":5,"l":0.6,"x":-1,"y":-0.25},{"m":"B3b","k":5,"l":0.6,"x":-0.7,"y":-0.3},{"m":"B3b","k":5,"l":0.6,"x":-0.35,"y":-0.35},{"m":"B3b","k":5,"l":0.6,"x":0,"y":-0.3},{"m":"B3b","k":5,"l":0.6,"x":0.35,"y":-0.32},{"m":"B3b","k":5,"l":0.6,"x":0.7,"y":-0.25},{"m":"B3b","k":5,"l":0.6,"x":1,"y":-0.22},
{"m":"B3b","k":6,"l":0.9,"x":-1,"y":-0.35},{"m":"B3b","k":6,"l":0.9,"x":-0.7,"y":-0.4},{"m":"B3b","k":6,"l":0.9,"x":-0.35,"y":-0.45},{"m":"B3b","k":6,"l":0.9,"x":0,"y":-0.38},{"m":"B3b","k":6,"l":0.9,"x":0.35,"y":-0.42},{"m":"B3b","k":6,"l":0.9,"x":0.7,"y":-0.33},{"m":"B3b","k":6,"l":0.9,"x":1,"y":-0.3},
{"m":"B3b","k":7,"l":1.4,"x":-1,"y":-0.5},{"m":"B3b","k":7,"l":1.4,"x":-0.7,"y":-0.55},{"m":"B3b","k":7,"l":1.4,"x":-0.35,"y":-0.6},{"m":"B3b","k":7,"l":1.4,"x":0,"y":-0.5},{"m":"B3b","k":7,"l":1.4,"x":0.35,"y":-0.55},{"m":"B3b","k":7,"l":1.4,"x":0.7,"y":-0.45},{"m":"B3b","k":7,"l":1.4,"x":1,"y":-0.42},
{"m":"B3b","k":8,"l":2,"x":-1,"y":-0.62},{"m":"B3b","k":8,"l":2,"x":-0.7,"y":-0.66},{"m":"B3b","k":8,"l":2,"x":-0.35,"y":-0.72},{"m":"B3b","k":8,"l":2,"x":0,"y":-0.6},{"m":"B3b","k":8,"l":2,"x":0.35,"y":-0.66},{"m":"B3b","k":8,"l":2,"x":0.7,"y":-0.56},{"m":"B3b","k":8,"l":2,"x":1,"y":-0.54}
]},
"resolve":{"scale":{"x":"independent","y":"independent"}},
"layer":[
{"data":{"name":"bar"},"layer":[
{"mark":{"type":"rect"},"encoding":{"x":{"field":"u0","type":"quantitative","scale":{"domain":[-2,2],"range":[557,594]},"axis":null},"x2":{"field":"u1"},"y":{"datum":0,"type":"quantitative","scale":{"domain":[0,1],"range":[17,11]},"axis":null},"y2":{"datum":1},"color":{"field":"l","type":"quantitative","scale":{"domain":[-2,-1.4,-0.7,0,0.8,1.4,2],"range":["#0000d8","#0418ff","#10c8f0","#20e040","#f0e820","#fb5a18","#ee1c10"]},"legend":null}}},
{"data":{"name":"barlabels"},"mark":{"type":"text","fontSize":9.5,"baseline":"middle"},"encoding":{"x":{"field":"u","type":"quantitative","scale":{"domain":[-2,2],"range":[557,594]},"axis":null},"y":{"datum":0.5,"type":"quantitative","scale":{"domain":[0,1],"range":[17,11]},"axis":null},"text":{"field":"s"}}}]},
{"layer":[
{"data":{"name":"heads"},"transform":[{"filter":"datum.m=='A1t'"}],"mark":{"type":"point","filled":true,"size":2000,"opacity":1},"encoding":{"x":{"field":"x","type":"quantitative","scale":{"domain":[-1,1],"range":[120.7,164.7]},"axis":null},"y":{"field":"y","type":"quantitative","scale":{"domain":[-1,1],"range":[115.3,71.3]},"axis":null},"color":{"field":"l","type":"quantitative","legend":null}}},
{"data":{"name":"topo"},"transform":[{"filter":"datum.m=='A1t'"}],"mark":{"type":"area","interpolate":"monotone"},"encoding":{"x":{"field":"x","type":"quantitative","scale":{"domain":[-1,1],"range":[120.7,164.7]},"axis":null},"y":{"field":"y","type":"quantitative","scale":{"domain":[-1,1],"range":[115.3,71.3]},"axis":null},"y2":{"datum":-1.02},"detail":{"field":"k","type":"ordinal"},"color":{"field":"l","type":"quantitative","legend":null}}},
{"data":{"name":"heads"},"transform":[{"filter":"datum.m=='A1t'"}],"mark":{"type":"point","filled":false,"size":2916,"stroke":"white","strokeWidth":10,"opacity":1},"encoding":{"x":{"field":"x","type":"quantitative","scale":{"domain":[-1,1],"range":[120.7,164.7]},"axis":null},"y":{"field":"y","type":"quantitative","scale":{"domain":[-1,1],"range":[115.3,71.3]},"axis":null}}},
{"data":{"name":"heads"},"transform":[{"filter":"datum.m=='A1t'"}],"mark":{"type":"point","filled":false,"size":1936,"stroke":"#777","strokeWidth":0.5,"opacity":1},"encoding":{"x":{"field":"x","type":"quantitative","scale":{"domain":[-1,1],"range":[120.7,164.7]},"axis":null},"y":{"field":"y","type":"quantitative","scale":{"domain":[-1,1],"range":[115.3,71.3]},"axis":null}}},
{"data":{"name":"heads"},"transform":[{"filter":"datum.m=='A1t'"}],"mark":{"type":"point","filled":false,"size":16,"stroke":"#888","strokeWidth":0.6,"opacity":1},"encoding":{"x":{"field":"x","type":"quantitative","scale":{"domain":[-1,1],"range":[120.7,164.7]},"axis":null},"y":{"field":"n","type":"quantitative","scale":{"domain":[-1,1],"range":[115.3,71.3]},"axis":null}}}]},
{"layer":[
{"data":{"name":"heads"},"transform":[{"filter":"datum.m=='A1b'"}],"mark":{"type":"point","filled":true,"size":2000,"opacity":1},"encoding":{"x":{"field":"x","type":"quantitative","scale":{"domain":[-1,1],"range":[121,165]},"axis":null},"y":{"field":"y","type":"quantitative","scale":{"domain":[-1,1],"range":[209.5,165.5]},"axis":null},"color":{"field":"l","type":"quantitative","legend":null}}},
{"data":{"name":"topo"},"transform":[{"filter":"datum.m=='A1b'"}],"mark":{"type":"area","interpolate":"monotone"},"encoding":{"x":{"field":"x","type":"quantitative","scale":{"domain":[-1,1],"range":[121,165]},"axis":null},"y":{"field":"y","type":"quantitative","scale":{"domain":[-1,1],"range":[209.5,165.5]},"axis":null},"y2":{"datum":-1.02},"detail":{"field":"k","type":"ordinal"},"color":{"field":"l","type":"quantitative","legend":null}}},
{"data":{"name":"blobs"},"transform":[{"filter":"datum.m=='A1b'"}],"mark":{"type":"area","interpolate":"monotone"},"encoding":{"x":{"field":"x","type":"quantitative","scale":{"domain":[-1,1],"range":[121,165]},"axis":null},"y":{"field":"y","type":"quantitative","scale":{"domain":[-1,1],"range":[209.5,165.5]},"axis":null},"y2":{"field":"b"},"color":{"field":"l","type":"quantitative","legend":null}}},
{"data":{"name":"heads"},"transform":[{"filter":"datum.m=='A1b'"}],"mark":{"type":"point","filled":false,"size":2916,"stroke":"white","strokeWidth":10,"opacity":1},"encoding":{"x":{"field":"x","type":"quantitative","scale":{"domain":[-1,1],"range":[121,165]},"axis":null},"y":{"field":"y","type":"quantitative","scale":{"domain":[-1,1],"range":[209.5,165.5]},"axis":null}}},
{"data":{"name":"heads"},"transform":[{"filter":"datum.m=='A1b'"}],"mark":{"type":"point","filled":false,"size":1936,"stroke":"#777","strokeWidth":0.5,"opacity":1},"encoding":{"x":{"field":"x","type":"quantitative","scale":{"domain":[-1,1],"range":[121,165]},"axis":null},"y":{"field":"y","type":"quantitative","scale":{"domain":[-1,1],"range":[209.5,165.5]},"axis":null}}},
{"data":{"name":"heads"},"transform":[{"filter":"datum.m=='A1b'"}],"mark":{"type":"point","filled":false,"size":16,"stroke":"#888","strokeWidth":0.6,"opacity":1},"encoding":{"x":{"field":"x","type":"quantitative","scale":{"domain":[-1,1],"range":[121,165]},"axis":null},"y":{"field":"n","type":"quantitative","scale":{"domain":[-1,1],"range":[209.5,165.5]},"axis":null}}}]},
{"layer":[
{"data":{"name":"heads"},"transform":[{"filter":"datum.m=='A3t'"}],"mark":{"type":"point","filled":true,"size":2000,"opacity":1},"encoding":{"x":{"field":"x","type":"quantitative","scale":{"domain":[-1,1],"range":[451.7,495.7]},"axis":null},"y":{"field":"y","type":"quantitative","scale":{"domain":[-1,1],"range":[114,70]},"axis":null},"color":{"field":"l","type":"quantitative","legend":null}}},
{"data":{"name":"topo"},"transform":[{"filter":"datum.m=='A3t'"}],"mark":{"type":"area","interpolate":"monotone"},"encoding":{"x":{"field":"x","type":"quantitative","scale":{"domain":[-1,1],"range":[451.7,495.7]},"axis":null},"y":{"field":"y","type":"quantitative","scale":{"domain":[-1,1],"range":[114,70]},"axis":null},"y2":{"datum":-1.02},"detail":{"field":"k","type":"ordinal"},"color":{"field":"l","type":"quantitative","legend":null}}},
{"data":{"name":"heads"},"transform":[{"filter":"datum.m=='A3t'"}],"mark":{"type":"point","filled":false,"size":2916,"stroke":"white","strokeWidth":10,"opacity":1},"encoding":{"x":{"field":"x","type":"quantitative","scale":{"domain":[-1,1],"range":[451.7,495.7]},"axis":null},"y":{"field":"y","type":"quantitative","scale":{"domain":[-1,1],"range":[114,70]},"axis":null}}},
{"data":{"name":"heads"},"transform":[{"filter":"datum.m=='A3t'"}],"mark":{"type":"point","filled":false,"size":1936,"stroke":"#777","strokeWidth":0.5,"opacity":1},"encoding":{"x":{"field":"x","type":"quantitative","scale":{"domain":[-1,1],"range":[451.7,495.7]},"axis":null},"y":{"field":"y","type":"quantitative","scale":{"domain":[-1,1],"range":[114,70]},"axis":null}}},
{"data":{"name":"heads"},"transform":[{"filter":"datum.m=='A3t'"}],"mark":{"type":"point","filled":false,"size":16,"stroke":"#888","strokeWidth":0.6,"opacity":1},"encoding":{"x":{"field":"x","type":"quantitative","scale":{"domain":[-1,1],"range":[451.7,495.7]},"axis":null},"y":{"field":"n","type":"quantitative","scale":{"domain":[-1,1],"range":[114,70]},"axis":null}}}]},
{"layer":[
{"data":{"name":"heads"},"transform":[{"filter":"datum.m=='A3b'"}],"mark":{"type":"point","filled":true,"size":1900,"opacity":1},"encoding":{"x":{"field":"x","type":"quantitative","scale":{"domain":[-1,1],"range":[454,497]},"axis":null},"y":{"field":"y","type":"quantitative","scale":{"domain":[-1,1],"range":[209,166]},"axis":null},"color":{"field":"l","type":"quantitative","legend":null}}},
{"data":{"name":"topo"},"transform":[{"filter":"datum.m=='A3b'"}],"mark":{"type":"area","interpolate":"monotone"},"encoding":{"x":{"field":"x","type":"quantitative","scale":{"domain":[-1,1],"range":[454,497]},"axis":null},"y":{"field":"y","type":"quantitative","scale":{"domain":[-1,1],"range":[209,166]},"axis":null},"y2":{"datum":-1.02},"detail":{"field":"k","type":"ordinal"},"color":{"field":"l","type":"quantitative","legend":null}}},
{"data":{"name":"blobs"},"transform":[{"filter":"datum.m=='A3b'"}],"mark":{"type":"area","interpolate":"monotone"},"encoding":{"x":{"field":"x","type":"quantitative","scale":{"domain":[-1,1],"range":[454,497]},"axis":null},"y":{"field":"y","type":"quantitative","scale":{"domain":[-1,1],"range":[209,166]},"axis":null},"y2":{"field":"b"},"color":{"field":"l","type":"quantitative","legend":null}}},
{"data":{"name":"heads"},"transform":[{"filter":"datum.m=='A3b'"}],"mark":{"type":"point","filled":false,"size":2809,"stroke":"white","strokeWidth":10,"opacity":1},"encoding":{"x":{"field":"x","type":"quantitative","scale":{"domain":[-1,1],"range":[454,497]},"axis":null},"y":{"field":"y","type":"quantitative","scale":{"domain":[-1,1],"range":[209,166]},"axis":null}}},
{"data":{"name":"heads"},"transform":[{"filter":"datum.m=='A3b'"}],"mark":{"type":"point","filled":false,"size":1849,"stroke":"#777","strokeWidth":0.5,"opacity":1},"encoding":{"x":{"field":"x","type":"quantitative","scale":{"domain":[-1,1],"range":[454,497]},"axis":null},"y":{"field":"y","type":"quantitative","scale":{"domain":[-1,1],"range":[209,166]},"axis":null}}},
{"data":{"name":"heads"},"transform":[{"filter":"datum.m=='A3b'"}],"mark":{"type":"point","filled":false,"size":16,"stroke":"#888","strokeWidth":0.6,"opacity":1},"encoding":{"x":{"field":"x","type":"quantitative","scale":{"domain":[-1,1],"range":[454,497]},"axis":null},"y":{"field":"n","type":"quantitative","scale":{"domain":[-1,1],"range":[209,166]},"axis":null}}}]},
{"layer":[
{"data":{"name":"heads"},"transform":[{"filter":"datum.m=='B1t'"}],"mark":{"type":"point","filled":true,"size":2000,"opacity":1},"encoding":{"x":{"field":"x","type":"quantitative","scale":{"domain":[-1,1],"range":[121,165]},"axis":null},"y":{"field":"y","type":"quantitative","scale":{"domain":[-1,1],"range":[324.5,280.5]},"axis":null},"color":{"field":"l","type":"quantitative","legend":null}}},
{"data":{"name":"topo"},"transform":[{"filter":"datum.m=='B1t'"}],"mark":{"type":"area","interpolate":"monotone"},"encoding":{"x":{"field":"x","type":"quantitative","scale":{"domain":[-1,1],"range":[121,165]},"axis":null},"y":{"field":"y","type":"quantitative","scale":{"domain":[-1,1],"range":[324.5,280.5]},"axis":null},"y2":{"datum":-1.02},"detail":{"field":"k","type":"ordinal"},"color":{"field":"l","type":"quantitative","legend":null}}},
{"data":{"name":"heads"},"transform":[{"filter":"datum.m=='B1t'"}],"mark":{"type":"point","filled":false,"size":2916,"stroke":"white","strokeWidth":10,"opacity":1},"encoding":{"x":{"field":"x","type":"quantitative","scale":{"domain":[-1,1],"range":[121,165]},"axis":null},"y":{"field":"y","type":"quantitative","scale":{"domain":[-1,1],"range":[324.5,280.5]},"axis":null}}},
{"data":{"name":"heads"},"transform":[{"filter":"datum.m=='B1t'"}],"mark":{"type":"point","filled":false,"size":1936,"stroke":"#777","strokeWidth":0.5,"opacity":1},"encoding":{"x":{"field":"x","type":"quantitative","scale":{"domain":[-1,1],"range":[121,165]},"axis":null},"y":{"field":"y","type":"quantitative","scale":{"domain":[-1,1],"range":[324.5,280.5]},"axis":null}}},
{"data":{"name":"heads"},"transform":[{"filter":"datum.m=='B1t'"}],"mark":{"type":"point","filled":false,"size":16,"stroke":"#888","strokeWidth":0.6,"opacity":1},"encoding":{"x":{"field":"x","type":"quantitative","scale":{"domain":[-1,1],"range":[121,165]},"axis":null},"y":{"field":"n","type":"quantitative","scale":{"domain":[-1,1],"range":[324.5,280.5]},"axis":null}}}]},
{"layer":[
{"data":{"name":"heads"},"transform":[{"filter":"datum.m=='B1b'"}],"mark":{"type":"point","filled":true,"size":2000,"opacity":1},"encoding":{"x":{"field":"x","type":"quantitative","scale":{"domain":[-1,1],"range":[121,165]},"axis":null},"y":{"field":"y","type":"quantitative","scale":{"domain":[-1,1],"range":[421,377]},"axis":null},"color":{"field":"l","type":"quantitative","legend":null}}},
{"data":{"name":"topo"},"transform":[{"filter":"datum.m=='B1b'"}],"mark":{"type":"area","interpolate":"monotone"},"encoding":{"x":{"field":"x","type":"quantitative","scale":{"domain":[-1,1],"range":[121,165]},"axis":null},"y":{"field":"y","type":"quantitative","scale":{"domain":[-1,1],"range":[421,377]},"axis":null},"y2":{"datum":-1.02},"detail":{"field":"k","type":"ordinal"},"color":{"field":"l","type":"quantitative","legend":null}}},
{"data":{"name":"heads"},"transform":[{"filter":"datum.m=='B1b'"}],"mark":{"type":"point","filled":false,"size":2916,"stroke":"white","strokeWidth":10,"opacity":1},"encoding":{"x":{"field":"x","type":"quantitative","scale":{"domain":[-1,1],"range":[121,165]},"axis":null},"y":{"field":"y","type":"quantitative","scale":{"domain":[-1,1],"range":[421,377]},"axis":null}}},
{"data":{"name":"heads"},"transform":[{"filter":"datum.m=='B1b'"}],"mark":{"type":"point","filled":false,"size":1936,"stroke":"#777","strokeWidth":0.5,"opacity":1},"encoding":{"x":{"field":"x","type":"quantitative","scale":{"domain":[-1,1],"range":[121,165]},"axis":null},"y":{"field":"y","type":"quantitative","scale":{"domain":[-1,1],"range":[421,377]},"axis":null}}},
{"data":{"name":"heads"},"transform":[{"filter":"datum.m=='B1b'"}],"mark":{"type":"point","filled":false,"size":16,"stroke":"#888","strokeWidth":0.6,"opacity":1},"encoding":{"x":{"field":"x","type":"quantitative","scale":{"domain":[-1,1],"range":[121,165]},"axis":null},"y":{"field":"n","type":"quantitative","scale":{"domain":[-1,1],"range":[421,377]},"axis":null}}}]},
{"layer":[
{"data":{"name":"heads"},"transform":[{"filter":"datum.m=='B3t'"}],"mark":{"type":"point","filled":true,"size":2050,"opacity":1},"encoding":{"x":{"field":"x","type":"quantitative","scale":{"domain":[-1,1],"range":[451.4,496]},"axis":null},"y":{"field":"y","type":"quantitative","scale":{"domain":[-1,1],"range":[322.5,278]},"axis":null},"color":{"field":"l","type":"quantitative","legend":null}}},
{"data":{"name":"topo"},"transform":[{"filter":"datum.m=='B3t'"}],"mark":{"type":"area","interpolate":"monotone"},"encoding":{"x":{"field":"x","type":"quantitative","scale":{"domain":[-1,1],"range":[451.4,496]},"axis":null},"y":{"field":"y","type":"quantitative","scale":{"domain":[-1,1],"range":[322.5,278]},"axis":null},"y2":{"datum":-1.02},"detail":{"field":"k","type":"ordinal"},"color":{"field":"l","type":"quantitative","legend":null}}},
{"data":{"name":"heads"},"transform":[{"filter":"datum.m=='B3t'"}],"mark":{"type":"point","filled":false,"size":2950,"stroke":"white","strokeWidth":10,"opacity":1},"encoding":{"x":{"field":"x","type":"quantitative","scale":{"domain":[-1,1],"range":[451.4,496]},"axis":null},"y":{"field":"y","type":"quantitative","scale":{"domain":[-1,1],"range":[322.5,278]},"axis":null}}},
{"data":{"name":"heads"},"transform":[{"filter":"datum.m=='B3t'"}],"mark":{"type":"point","filled":false,"size":1980,"stroke":"#777","strokeWidth":0.5,"opacity":1},"encoding":{"x":{"field":"x","type":"quantitative","scale":{"domain":[-1,1],"range":[451.4,496]},"axis":null},"y":{"field":"y","type":"quantitative","scale":{"domain":[-1,1],"range":[322.5,278]},"axis":null}}},
{"data":{"name":"heads"},"transform":[{"filter":"datum.m=='B3t'"}],"mark":{"type":"point","filled":false,"size":16,"stroke":"#888","strokeWidth":0.6,"opacity":1},"encoding":{"x":{"field":"x","type":"quantitative","scale":{"domain":[-1,1],"range":[451.4,496]},"axis":null},"y":{"field":"n","type":"quantitative","scale":{"domain":[-1,1],"range":[322.5,278]},"axis":null}}}]},
{"layer":[
{"data":{"name":"heads"},"transform":[{"filter":"datum.m=='B3b'"}],"mark":{"type":"point","filled":true,"size":1800,"opacity":1},"encoding":{"x":{"field":"x","type":"quantitative","scale":{"domain":[-1,1],"range":[455.8,497.8]},"axis":null},"y":{"field":"y","type":"quantitative","scale":{"domain":[-1,1],"range":[415.8,373.8]},"axis":null},"color":{"field":"l","type":"quantitative","legend":null}}},
{"data":{"name":"topo"},"transform":[{"filter":"datum.m=='B3b'"}],"mark":{"type":"area","interpolate":"monotone"},"encoding":{"x":{"field":"x","type":"quantitative","scale":{"domain":[-1,1],"range":[455.8,497.8]},"axis":null},"y":{"field":"y","type":"quantitative","scale":{"domain":[-1,1],"range":[415.8,373.8]},"axis":null},"y2":{"datum":-1.02},"detail":{"field":"k","type":"ordinal"},"color":{"field":"l","type":"quantitative","legend":null}}},
{"data":{"name":"heads"},"transform":[{"filter":"datum.m=='B3b'"}],"mark":{"type":"point","filled":false,"size":2704,"stroke":"white","strokeWidth":10,"opacity":1},"encoding":{"x":{"field":"x","type":"quantitative","scale":{"domain":[-1,1],"range":[455.8,497.8]},"axis":null},"y":{"field":"y","type":"quantitative","scale":{"domain":[-1,1],"range":[415.8,373.8]},"axis":null}}},
{"data":{"name":"heads"},"transform":[{"filter":"datum.m=='B3b'"}],"mark":{"type":"point","filled":false,"size":1764,"stroke":"#777","strokeWidth":0.5,"opacity":1},"encoding":{"x":{"field":"x","type":"quantitative","scale":{"domain":[-1,1],"range":[455.8,497.8]},"axis":null},"y":{"field":"y","type":"quantitative","scale":{"domain":[-1,1],"range":[415.8,373.8]},"axis":null}}},
{"data":{"name":"heads"},"transform":[{"filter":"datum.m=='B3b'"}],"mark":{"type":"point","filled":false,"size":16,"stroke":"#888","strokeWidth":0.6,"opacity":1},"encoding":{"x":{"field":"x","type":"quantitative","scale":{"domain":[-1,1],"range":[455.8,497.8]},"axis":null},"y":{"field":"n","type":"quantitative","scale":{"domain":[-1,1],"range":[415.8,373.8]},"axis":null}}}]},
{"data":{"name":"erp"},"layer":[
{"data":{"name":"boxes"},"transform":[{"filter":"datum.p=='A1'"}],"mark":{"type":"rect","color":"#e3e3e3"},"encoding":{"x":{"field":"t0","type":"quantitative","title":null,"scale":{"domain":[-100,400],"range":[10,145]},"axis":{"orient":"top","offset":-142.7,"title":null,"values":[-100,0,200,400],"labelExpr":"datum.value==-100||datum.value==400?''+datum.value:''","labelPadding":4}},"x2":{"field":"t1"},"y":{"field":"v0","type":"quantitative","title":null,"scale":{"domain":[-7,3],"range":[65,176]},"axis":{"orient":"left","offset":-37,"title":null,"values":[-7,3],"labelExpr":"''+datum.value","labelPadding":6}},"y2":{"field":"v1"}}},
{"transform":[{"filter":"datum.p=='A1'"}],"mark":{"type":"line","color":"#111","strokeWidth":1.1,"interpolate":"monotone"},"encoding":{"x":{"field":"t","type":"quantitative","title":null,"scale":{"domain":[-100,400],"range":[10,145]}},"y":{"field":"a","type":"quantitative","title":null,"scale":{"domain":[-7,3],"range":[65,176]}}}},
{"transform":[{"filter":"datum.p=='A1'"}],"mark":{"type":"line","color":"#222","strokeWidth":0.9,"strokeDash":[2,1.5],"interpolate":"monotone"},"encoding":{"x":{"field":"t","type":"quantitative","title":null,"scale":{"domain":[-100,400],"range":[10,145]}},"y":{"field":"b","type":"quantitative","title":null,"scale":{"domain":[-7,3],"range":[65,176]}}}},
{"data":{"name":"labels"},"transform":[{"filter":"datum.p=='A1'"}],"mark":{"type":"text","baseline":"middle"},"encoding":{"x":{"field":"t","type":"quantitative","title":null,"scale":{"domain":[-100,400],"range":[10,145]}},"y":{"field":"v","type":"quantitative","title":null,"scale":{"domain":[-7,3],"range":[65,176]}},"text":{"field":"s"},"size":{"field":"k","type":"nominal","scale":{"type":"ordinal","domain":["s","m","h","t"],"range":[8.4,10.5,12.2,14.4]},"legend":null}}},
{"data":{"name":"letters"},"transform":[{"filter":"datum.p=='A1'"}],"mark":{"type":"text","baseline":"middle","fontWeight":"bold","fontSize":14},"encoding":{"x":{"field":"t","type":"quantitative","title":null,"scale":{"domain":[-100,400],"range":[10,145]}},"y":{"field":"v","type":"quantitative","title":null,"scale":{"domain":[-7,3],"range":[65,176]}},"text":{"field":"s"}}}]},
{"data":{"name":"erp"},"layer":[
{"data":{"name":"boxes"},"transform":[{"filter":"datum.p=='A2'"}],"mark":{"type":"rect","color":"#e3e3e3"},"encoding":{"x":{"field":"t0","type":"quantitative","title":null,"scale":{"domain":[-100,400],"range":[171,313]},"axis":{"orient":"top","offset":-142.9,"title":null,"values":[-100,0,200,400],"labelExpr":"datum.value==-100||datum.value==400?''+datum.value:''","labelPadding":4}},"x2":{"field":"t1"},"y":{"field":"v0","type":"quantitative","title":null,"scale":{"domain":[-7,3],"range":[65.7,176]},"axis":{"orient":"left","offset":-199.4,"title":null,"values":[-7,3],"labelExpr":"''+datum.value","labelPadding":6}},"y2":{"field":"v1"}}},
{"transform":[{"filter":"datum.p=='A2'"}],"mark":{"type":"line","color":"#111","strokeWidth":1.1,"interpolate":"monotone"},"encoding":{"x":{"field":"t","type":"quantitative","title":null,"scale":{"domain":[-100,400],"range":[171,313]}},"y":{"field":"a","type":"quantitative","title":null,"scale":{"domain":[-7,3],"range":[65.7,176]}}}},
{"transform":[{"filter":"datum.p=='A2'"}],"mark":{"type":"line","color":"#222","strokeWidth":0.9,"strokeDash":[2,1.5],"interpolate":"monotone"},"encoding":{"x":{"field":"t","type":"quantitative","title":null,"scale":{"domain":[-100,400],"range":[171,313]}},"y":{"field":"b","type":"quantitative","title":null,"scale":{"domain":[-7,3],"range":[65.7,176]}}}},
{"data":{"name":"labels"},"transform":[{"filter":"datum.p=='A2'"}],"mark":{"type":"text","baseline":"middle"},"encoding":{"x":{"field":"t","type":"quantitative","title":null,"scale":{"domain":[-100,400],"range":[171,313]}},"y":{"field":"v","type":"quantitative","title":null,"scale":{"domain":[-7,3],"range":[65.7,176]}},"text":{"field":"s"},"size":{"field":"k","type":"nominal","scale":{"type":"ordinal","domain":["s","m","h","t"],"range":[8.4,10.5,12.2,14.4]},"legend":null}}}]},
{"data":{"name":"erp"},"layer":[
{"data":{"name":"boxes"},"transform":[{"filter":"datum.p=='A3'"}],"mark":{"type":"rect","color":"#e3e3e3"},"encoding":{"x":{"field":"t0","type":"quantitative","title":null,"scale":{"domain":[-100,400],"range":[342,471]},"axis":{"orient":"top","offset":-142.5,"title":null,"values":[-100,0,200,400],"labelExpr":"datum.value==-100||datum.value==400?''+datum.value:''","labelPadding":4}},"x2":{"field":"t1"},"y":{"field":"v0","type":"quantitative","title":null,"scale":{"domain":[-7,3],"range":[65,175.7]},"axis":{"orient":"left","offset":-367.8,"title":null,"values":[-7,3],"labelExpr":"''+datum.value","labelPadding":6}},"y2":{"field":"v1"}}},
{"transform":[{"filter":"datum.p=='A3'"}],"mark":{"type":"line","color":"#111","strokeWidth":1.1,"interpolate":"monotone"},"encoding":{"x":{"field":"t","type":"quantitative","title":null,"scale":{"domain":[-100,400],"range":[342,471]}},"y":{"field":"a","type":"quantitative","title":null,"scale":{"domain":[-7,3],"range":[65,175.7]}}}},
{"transform":[{"filter":"datum.p=='A3'"}],"mark":{"type":"line","color":"#222","strokeWidth":0.9,"strokeDash":[2,1.5],"interpolate":"monotone"},"encoding":{"x":{"field":"t","type":"quantitative","title":null,"scale":{"domain":[-100,400],"range":[342,471]}},"y":{"field":"b","type":"quantitative","title":null,"scale":{"domain":[-7,3],"range":[65,175.7]}}}},
{"data":{"name":"labels"},"transform":[{"filter":"datum.p=='A3'"}],"mark":{"type":"text","baseline":"middle"},"encoding":{"x":{"field":"t","type":"quantitative","title":null,"scale":{"domain":[-100,400],"range":[342,471]}},"y":{"field":"v","type":"quantitative","title":null,"scale":{"domain":[-7,3],"range":[65,175.7]}},"text":{"field":"s"},"size":{"field":"k","type":"nominal","scale":{"type":"ordinal","domain":["s","m","h","t"],"range":[8.4,10.5,12.2,14.4]},"legend":null}}}]},
{"data":{"name":"erp"},"layer":[
{"data":{"name":"boxes"},"transform":[{"filter":"datum.p=='A4'"}],"mark":{"type":"rect","color":"#e3e3e3"},"encoding":{"x":{"field":"t0","type":"quantitative","title":null,"scale":{"domain":[-100,400],"range":[498,632]},"axis":{"orient":"top","offset":-142.8,"title":null,"values":[-100,0,200,400],"labelExpr":"datum.value==-100||datum.value==400?''+datum.value:''","labelPadding":4}},"x2":{"field":"t1"},"y":{"field":"v0","type":"quantitative","title":null,"scale":{"domain":[-7,3],"range":[66,175.7]},"axis":{"orient":"left","offset":-524.8,"title":null,"values":[-7,3],"labelExpr":"''+datum.value","labelPadding":6}},"y2":{"field":"v1"}}},
{"transform":[{"filter":"datum.p=='A4'"}],"mark":{"type":"line","color":"#111","strokeWidth":1.1,"interpolate":"monotone"},"encoding":{"x":{"field":"t","type":"quantitative","title":null,"scale":{"domain":[-100,400],"range":[498,632]}},"y":{"field":"a","type":"quantitative","title":null,"scale":{"domain":[-7,3],"range":[66,175.7]}}}},
{"transform":[{"filter":"datum.p=='A4'"}],"mark":{"type":"line","color":"#222","strokeWidth":0.9,"strokeDash":[2,1.5],"interpolate":"monotone"},"encoding":{"x":{"field":"t","type":"quantitative","title":null,"scale":{"domain":[-100,400],"range":[498,632]}},"y":{"field":"b","type":"quantitative","title":null,"scale":{"domain":[-7,3],"range":[66,175.7]}}}},
{"data":{"name":"labels"},"transform":[{"filter":"datum.p=='A4'"}],"mark":{"type":"text","baseline":"middle"},"encoding":{"x":{"field":"t","type":"quantitative","title":null,"scale":{"domain":[-100,400],"range":[498,632]}},"y":{"field":"v","type":"quantitative","title":null,"scale":{"domain":[-7,3],"range":[66,175.7]}},"text":{"field":"s"},"size":{"field":"k","type":"nominal","scale":{"type":"ordinal","domain":["s","m","h","t"],"range":[8.4,10.5,12.2,14.4]},"legend":null}}},
{"data":{"name":"legendlines"},"transform":[{"filter":"datum.s=='Pre-PA'"}],"mark":{"type":"rule","color":"#111","strokeWidth":1},"encoding":{"x":{"field":"t0","type":"quantitative","title":null,"scale":{"domain":[-100,400],"range":[498,632]}},"x2":{"field":"t1"},"y":{"field":"v","type":"quantitative","title":null,"scale":{"domain":[-7,3],"range":[66,175.7]}}}},
{"data":{"name":"legendlines"},"transform":[{"filter":"datum.s=='Post-PA'"}],"mark":{"type":"rule","color":"#111","strokeWidth":0.9,"strokeDash":[2,1.5]},"encoding":{"x":{"field":"t0","type":"quantitative","title":null,"scale":{"domain":[-100,400],"range":[498,632]}},"x2":{"field":"t1"},"y":{"field":"v","type":"quantitative","title":null,"scale":{"domain":[-7,3],"range":[66,175.7]}}}}]},
{"data":{"name":"erp"},"layer":[
{"data":{"name":"boxes"},"transform":[{"filter":"datum.p=='B1'"}],"mark":{"type":"rect","color":"#e3e3e3"},"encoding":{"x":{"field":"t0","type":"quantitative","title":null,"scale":{"domain":[-100,400],"range":[11.7,149]},"axis":{"orient":"top","offset":-348.4,"zindex":1,"title":null,"values":[-100,0,200,400],"labelExpr":"datum.value==-100||datum.value==400?''+datum.value:''","labelPadding":4}},"x2":{"field":"t1"},"y":{"field":"v0","type":"quantitative","title":null,"scale":{"domain":[-7,3],"range":[268.3,382.7]},"axis":{"orient":"left","offset":-39.2,"title":null,"values":[-7,3],"labelExpr":"''+datum.value","labelPadding":6}},"y2":{"field":"v1"}}},
{"transform":[{"filter":"datum.p=='B1'"}],"mark":{"type":"line","color":"#111","strokeWidth":1.1,"interpolate":"monotone"},"encoding":{"x":{"field":"t","type":"quantitative","title":null,"scale":{"domain":[-100,400],"range":[11.7,149]}},"y":{"field":"a","type":"quantitative","title":null,"scale":{"domain":[-7,3],"range":[268.3,382.7]}}}},
{"transform":[{"filter":"datum.p=='B1'"}],"mark":{"type":"line","color":"#222","strokeWidth":0.9,"strokeDash":[2,1.5],"interpolate":"monotone"},"encoding":{"x":{"field":"t","type":"quantitative","title":null,"scale":{"domain":[-100,400],"range":[11.7,149]}},"y":{"field":"b","type":"quantitative","title":null,"scale":{"domain":[-7,3],"range":[268.3,382.7]}}}},
{"data":{"name":"labels"},"transform":[{"filter":"datum.p=='B1'"}],"mark":{"type":"text","baseline":"middle"},"encoding":{"x":{"field":"t","type":"quantitative","title":null,"scale":{"domain":[-100,400],"range":[11.7,149]}},"y":{"field":"v","type":"quantitative","title":null,"scale":{"domain":[-7,3],"range":[268.3,382.7]}},"text":{"field":"s"},"size":{"field":"k","type":"nominal","scale":{"type":"ordinal","domain":["s","m","h","t"],"range":[8.4,10.5,12.2,14.4]},"legend":null}}},
{"data":{"name":"letters"},"transform":[{"filter":"datum.p=='B1'"}],"mark":{"type":"text","baseline":"middle","fontWeight":"bold","fontSize":14},"encoding":{"x":{"field":"t","type":"quantitative","title":null,"scale":{"domain":[-100,400],"range":[11.7,149]}},"y":{"field":"v","type":"quantitative","title":null,"scale":{"domain":[-7,3],"range":[268.3,382.7]}},"text":{"field":"s"}}}]},
{"data":{"name":"erp"},"layer":[
{"data":{"name":"boxes"},"transform":[{"filter":"datum.p=='B2'"}],"mark":{"type":"rect","color":"#e3e3e3"},"encoding":{"x":{"field":"t0","type":"quantitative","title":null,"scale":{"domain":[-100,400],"range":[171.7,314]},"axis":{"orient":"top","offset":-346.3,"title":null,"values":[-100,0,200,400],"labelExpr":"datum.value==-100||datum.value==400?''+datum.value:''","labelPadding":4}},"x2":{"field":"t1"},"y":{"field":"v0","type":"quantitative","title":null,"scale":{"domain":[-7,3],"range":[269.3,379.3]},"axis":{"orient":"left","offset":-200.2,"title":null,"values":[-7,3],"labelExpr":"''+datum.value","labelPadding":6}},"y2":{"field":"v1"}}},
{"transform":[{"filter":"datum.p=='B2'"}],"mark":{"type":"line","color":"#111","strokeWidth":1.1,"interpolate":"monotone"},"encoding":{"x":{"field":"t","type":"quantitative","title":null,"scale":{"domain":[-100,400],"range":[171.7,314]}},"y":{"field":"a","type":"quantitative","title":null,"scale":{"domain":[-7,3],"range":[269.3,379.3]}}}},
{"transform":[{"filter":"datum.p=='B2'"}],"mark":{"type":"line","color":"#222","strokeWidth":0.9,"strokeDash":[2,1.5],"interpolate":"monotone"},"encoding":{"x":{"field":"t","type":"quantitative","title":null,"scale":{"domain":[-100,400],"range":[171.7,314]}},"y":{"field":"b","type":"quantitative","title":null,"scale":{"domain":[-7,3],"range":[269.3,379.3]}}}},
{"data":{"name":"labels"},"transform":[{"filter":"datum.p=='B2'"}],"mark":{"type":"text","baseline":"middle"},"encoding":{"x":{"field":"t","type":"quantitative","title":null,"scale":{"domain":[-100,400],"range":[171.7,314]}},"y":{"field":"v","type":"quantitative","title":null,"scale":{"domain":[-7,3],"range":[269.3,379.3]}},"text":{"field":"s"},"size":{"field":"k","type":"nominal","scale":{"type":"ordinal","domain":["s","m","h","t"],"range":[8.4,10.5,12.2,14.4]},"legend":null}}}]},
{"data":{"name":"erp"},"layer":[
{"data":{"name":"boxes"},"transform":[{"filter":"datum.p=='B3'"}],"mark":{"type":"rect","color":"#e3e3e3"},"encoding":{"x":{"field":"t0","type":"quantitative","title":null,"scale":{"domain":[-100,400],"range":[342.7,474]},"axis":{"orient":"top","offset":-346,"zindex":1,"title":null,"values":[-100,0,200,400],"labelExpr":"datum.value==-100||datum.value==400?''+datum.value:''","labelPadding":4}},"x2":{"field":"t1"},"y":{"field":"v0","type":"quantitative","title":null,"scale":{"domain":[-7,3],"range":[268.3,379.3]},"axis":{"orient":"left","offset":-369,"title":null,"values":[-7,3],"labelExpr":"''+datum.value","labelPadding":6}},"y2":{"field":"v1"}}},
{"transform":[{"filter":"datum.p=='B3'"}],"mark":{"type":"line","color":"#111","strokeWidth":1.1,"interpolate":"monotone"},"encoding":{"x":{"field":"t","type":"quantitative","title":null,"scale":{"domain":[-100,400],"range":[342.7,474]}},"y":{"field":"a","type":"quantitative","title":null,"scale":{"domain":[-7,3],"range":[268.3,379.3]}}}},
{"transform":[{"filter":"datum.p=='B3'"}],"mark":{"type":"line","color":"#222","strokeWidth":0.9,"strokeDash":[2,1.5],"interpolate":"monotone"},"encoding":{"x":{"field":"t","type":"quantitative","title":null,"scale":{"domain":[-100,400],"range":[342.7,474]}},"y":{"field":"b","type":"quantitative","title":null,"scale":{"domain":[-7,3],"range":[268.3,379.3]}}}},
{"data":{"name":"labels"},"transform":[{"filter":"datum.p=='B3'"}],"mark":{"type":"text","baseline":"middle"},"encoding":{"x":{"field":"t","type":"quantitative","title":null,"scale":{"domain":[-100,400],"range":[342.7,474]}},"y":{"field":"v","type":"quantitative","title":null,"scale":{"domain":[-7,3],"range":[268.3,379.3]}},"text":{"field":"s"},"size":{"field":"k","type":"nominal","scale":{"type":"ordinal","domain":["s","m","h","t"],"range":[8.4,10.5,12.2,14.4]},"legend":null}}}]},
{"data":{"name":"erp"},"layer":[
{"data":{"name":"boxes"},"transform":[{"filter":"datum.p=='B4'"}],"mark":{"type":"rect","color":"#e3e3e3"},"encoding":{"x":{"field":"t0","type":"quantitative","title":null,"scale":{"domain":[-100,400],"range":[500,631.7]},"axis":{"orient":"top","offset":-345.6,"title":null,"values":[-100,0,200,400],"labelExpr":"datum.value==-100||datum.value==400?''+datum.value:''","labelPadding":4}},"x2":{"field":"t1"},"y":{"field":"v0","type":"quantitative","title":null,"scale":{"domain":[-7,3],"range":[270.7,377.7]},"axis":{"orient":"left","offset":-526.3,"title":null,"values":[-7,3],"labelExpr":"''+datum.value","labelPadding":6}},"y2":{"field":"v1"}}},
{"transform":[{"filter":"datum.p=='B4'"}],"mark":{"type":"line","color":"#111","strokeWidth":1.1,"interpolate":"monotone"},"encoding":{"x":{"field":"t","type":"quantitative","title":null,"scale":{"domain":[-100,400],"range":[500,631.7]}},"y":{"field":"a","type":"quantitative","title":null,"scale":{"domain":[-7,3],"range":[270.7,377.7]}}}},
{"transform":[{"filter":"datum.p=='B4'"}],"mark":{"type":"line","color":"#222","strokeWidth":0.9,"strokeDash":[2,1.5],"interpolate":"monotone"},"encoding":{"x":{"field":"t","type":"quantitative","title":null,"scale":{"domain":[-100,400],"range":[500,631.7]}},"y":{"field":"b","type":"quantitative","title":null,"scale":{"domain":[-7,3],"range":[270.7,377.7]}}}},
{"data":{"name":"labels"},"transform":[{"filter":"datum.p=='B4'"}],"mark":{"type":"text","baseline":"middle"},"encoding":{"x":{"field":"t","type":"quantitative","title":null,"scale":{"domain":[-100,400],"range":[500,631.7]}},"y":{"field":"v","type":"quantitative","title":null,"scale":{"domain":[-7,3],"range":[270.7,377.7]}},"text":{"field":"s"},"size":{"field":"k","type":"nominal","scale":{"type":"ordinal","domain":["s","m","h","t"],"range":[8.4,10.5,12.2,14.4]},"legend":null}}}]}
]}
